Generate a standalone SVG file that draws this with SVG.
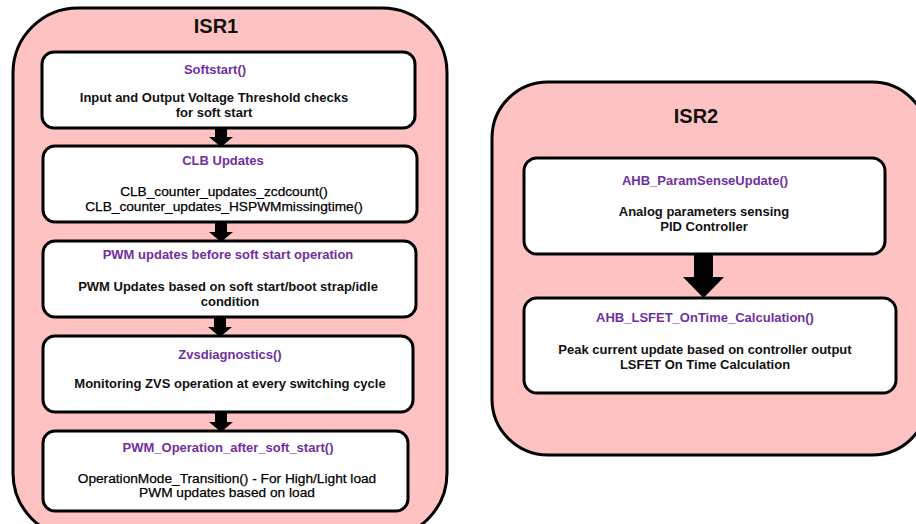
<svg xmlns="http://www.w3.org/2000/svg" width="916" height="524" viewBox="0 0 916 524">
<style>
.grp{fill:#FFC2C2;stroke:#000;stroke-width:3}
.box{fill:#fff;stroke:#000;stroke-width:3}
text{font-family:"Liberation Sans",Arial,sans-serif;text-anchor:middle;fill:#111}
.gt{font-size:20px;font-weight:bold}
.tt{font-size:13px;font-weight:bold;fill:#7030A0}
.b{font-size:13px;font-weight:bold}
.r{font-size:13.7px;fill:#000;stroke:#000;stroke-width:0.25}
.arr{fill:#000}
</style>
<rect width="916" height="524" fill="#fff"/>
<g id="isr1">
<rect class="grp" x="13" y="8" width="434" height="530" rx="65"/>
<text class="gt" x="216" y="33">ISR1</text>
</g>
<g id="isr2">
<rect class="grp" x="492" y="82" width="436" height="373" rx="56"/>
<text class="gt" x="696" y="123">ISR2</text>
</g>
<g id="softstart">
<rect class="box" x="42" y="52" width="373" height="76" rx="12"/>
<text class="tt" x="215" y="74">Softstart()</text>
<text class="b" x="214" y="102">Input and Output Voltage Threshold checks</text>
<text class="b" x="214" y="117">for soft start</text>
</g>
<g id="clb">
<rect class="box" x="43" y="146" width="374" height="76" rx="12"/>
<text class="tt" x="223" y="165">CLB Updates</text>
<text class="r" x="224" y="196">CLB_counter_updates_zcdcount()</text>
<text class="r" x="224" y="211">CLB_counter_updates_HSPWMmissingtime()</text>
</g>
<g id="pwmbefore">
<rect class="box" x="43" y="241" width="373" height="76" rx="12"/>
<text class="tt" x="228" y="259">PWM updates before soft start operation</text>
<text class="b" x="228" y="291">PWM Updates based on soft start/boot strap/idle</text>
<text class="b" x="230" y="306">condition</text>
</g>
<g id="zvs">
<rect class="box" x="43" y="336" width="370" height="76" rx="12"/>
<text class="tt" x="230" y="359">Zvsdiagnostics()</text>
<text class="b" x="230" y="388">Monitoring ZVS operation at every switching cycle</text>
</g>
<g id="pwmafter">
<rect class="box" x="43" y="431" width="365" height="80" rx="12"/>
<text class="tt" x="228" y="452">PWM_Operation_after_soft_start()</text>
<text class="r" x="227" y="483">OperationMode_Transition() - For High/Light load</text>
<text class="r" x="227" y="497">PWM updates based on load</text>
</g>
<g id="paramsense">
<rect class="box" x="524" y="158" width="361" height="96" rx="13"/>
<text class="tt" x="705" y="185">AHB_ParamSenseUpdate()</text>
<text class="b" x="704" y="216">Analog parameters sensing</text>
<text class="b" x="704" y="231">PID Controller</text>
</g>
<g id="lsfet">
<rect class="box" x="524" y="298" width="372" height="95" rx="13"/>
<text class="tt" x="705" y="322">AHB_LSFET_OnTime_Calculation()</text>
<text class="b" x="705" y="354">Peak current update based on controller output</text>
<text class="b" x="705" y="369">LSFET On Time Calculation</text>
</g>
<g id="connectors">
<polygon class="arr" points="215,129 227,129 227,137 233,137 221,147 209,137 215,137"/>
<polygon class="arr" points="215,223 227,223 227,232 233,232 221,242 209,232 215,232"/>
<polygon class="arr" points="214,318 226,318 226,327 232,327 220,337 208,327 214,327"/>
<polygon class="arr" points="215,413 227,413 227,422 233,422 221,432 209,422 215,422"/>
<polygon class="arr" points="694,255 713,255 713,277 724,277 703.5,298 683,277 694,277"/>
</g>
</svg>
